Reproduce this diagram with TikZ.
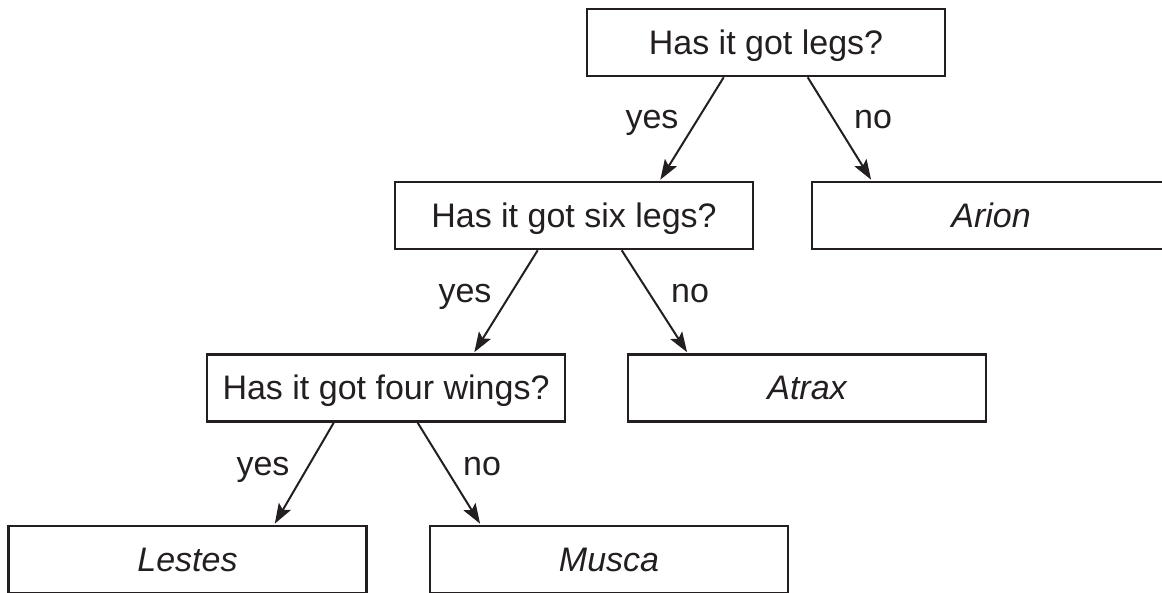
\documentclass[tikz,border=0pt]{standalone}
\usepackage{fontspec}
\setmainfont{Liberation Sans}
\usetikzlibrary{arrows.meta,calc}
\definecolor{ink}{RGB}{35,31,32}
\begin{document}
\begin{tikzpicture}[x=1pt,y=-1pt,
  box/.style={draw=ink, line width=2.6pt, minimum width=358pt, minimum height=67pt,
    inner sep=0pt, text height=24pt, text depth=0pt,
    font=\fontsize{34}{38}\selectfont, text=ink},
  arr/.style={draw=ink, line width=2pt, shorten >=1.2pt,
    -{Stealth[length=20pt,width=14pt,inset=4pt]}},
  lbl/.style={anchor=base, font=\fontsize{34}{38}\selectfont, text=ink, inner sep=0pt}]
\useasboundingbox (0,0) rectangle (1162,593);
\clip (0,0) rectangle (1162,593);
\node[box] (q1) at (766,42.5) {Has it got legs?};
\node[box] (q2) at (574,215.5) {Has it got six legs?};
\node[box] (arion) at (991,215.5) {\itshape Arion};
\node[box] (q3) at (386,388) {Has it got four wings?};
\node[box] (atrax) at (807,388) {\itshape Atrax};
\node[box] (lestes) at (187.5,559.5) {\itshape Lestes};
\node[box] (musca) at (609,559.5) {\itshape Musca};
\draw[arr] ($(q1.south west)+(138,0)$) -- ($(q2.north west)+(266,0)$);
\draw[arr] ($(q1.south west)+(222,0)$) -- ($(arion.north west)+(61,0)$);
\draw[arr] ($(q2.south west)+(144,0)$) -- ($(q3.north west)+(268,0)$);
\draw[arr] ($(q2.south west)+(228,0)$) -- ($(atrax.north west)+(61,0)$);
\draw[arr] ($(q3.south west)+(128,0)$) -- ($(lestes.north west)+(267,0)$);
\draw[arr] ($(q3.south west)+(212,0)$) -- ($(musca.north west)+(52,0)$);
\node[lbl] (y1) at (652,129) {yes};
\node[lbl] (n1) at (873,129) {no};
\node[lbl] (y2) at (465,303) {yes};
\node[lbl] (n2) at (690,303) {no};
\node[lbl] (y3) at (263,475) {yes};
\node[lbl] (n3) at (482,475) {no};
\end{tikzpicture}
\end{document}
